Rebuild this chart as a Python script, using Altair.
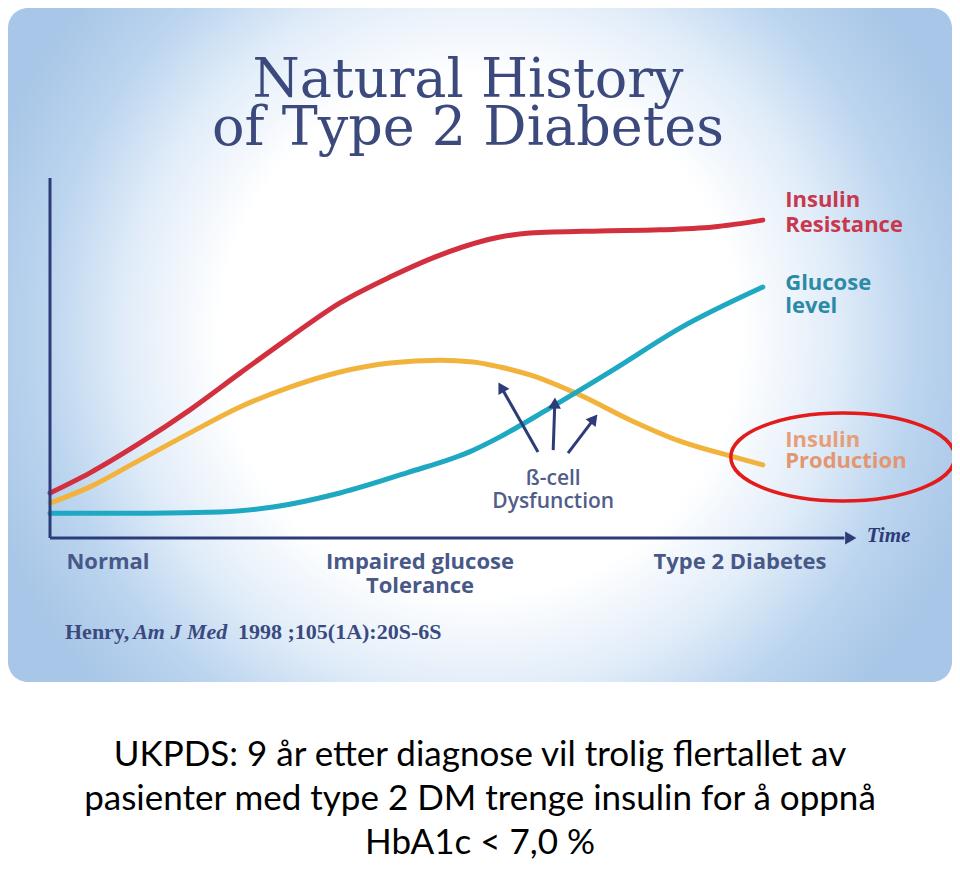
import altair as alt
import pandas as pd

# ---------------- data ----------------
# time axis: 0 = origin, 100 = arrow tip ; level axis: 0 = x-axis, 100 = top of y-axis
red_t = [0, 5, 11.25, 17.5, 23.75, 30, 36.25, 42.5, 48.75, 56.25, 60, 68.75, 76.25, 82.9, 89.1]
red_v = [12.5, 18.1, 26.4, 35.6, 45.8, 55.8, 65.3, 72.5, 78.6, 83.6, 84.7, 85.3, 85.6, 86.4, 88.3]

yel_t = [0, 5, 11.25, 17.5, 23.75, 30, 36.25, 42.5, 48.75, 52.9, 56.25, 60, 66.25, 72.5, 78.75, 85, 89.1]
yel_v = [9.7, 14.2, 21.7, 29.2, 36.4, 41.9, 46.1, 48.6, 49.4, 48.9, 47.5, 45.3, 39.7, 32.8, 26.9, 22.8, 20.3]

teal_t = [0, 12.5, 21.25, 27.9, 36.25, 44.6, 52.9, 56.25, 62.1, 70.4, 78.75, 89.1]
teal_v = [6.9, 6.9, 7.2, 8.6, 12.5, 18.1, 24.4, 28.1, 35.6, 46.7, 58.3, 69.7]

series_names = ["Insulin Resistance", "Insulin Production", "Glucose level"]
series_colors = ["#d2303f", "#f2b33d", "#1fa8c2"]

# curve labels
curve_lbl_text = ["Insulin", "Resistance", "Glucose", "level", "Insulin", "Production"]
curve_lbl_t = [91.9, 91.9, 91.9, 91.9, 91.9, 91.9]
curve_lbl_v = [91.9, 85.0, 68.9, 62.5, 25.3, 19.4]
curve_lbl_col = ["#c8374c", "#c8374c", "#2b8ba7", "#2b8ba7", "#e79e78", "#e39670"]

# stage labels under the time axis
stage_text = ["Normal", "Impaired glucose", "Tolerance", "Type 2 Diabetes"]
stage_t = [7.25, 46.25, 46.25, 86.25]
stage_v = [-8.6, -8.6, -15.3, -8.6]

# beta-cell annotation
beta_text = ["ß-cell", "Dysfunction"]
beta_t = [62.9, 62.9]
beta_v = [14.7, 8.3]

# beta-cell arrows (base -> head)
arr_t = [61.0, 62.9, 64.75]
arr_v = [23.9, 24.4, 23.6]
arr_t2 = [56.4, 63.1, 68.0]
arr_v2 = [41.9, 37.5, 33.1]
arr_angle = [330, 2, 38]

# title
title_text = ["Natural History", "of Type 2 Diabetes"]
title_t = [52.25, 52.25]
title_v = [122.5, 109.2]

# citation pieces
cite_text = ["Henry,", "Am J Med", "1998 ;105(1A):20S-6S"]
cite_t = [1.875, 10.4, 23.5]
cite_v = [-28.1, -28.1, -28.1]
cite_style = ["normal", "italic", "normal"]

# caption (Norwegian)
caption_text = [
    "UKPDS: 9 år etter diagnose vil trolig flertallet av",
    "pasienter med type 2 DM trenge insulin for å oppnå",
    "HbA1c < 7,0 %",
]
caption_t = [53.75, 53.75, 53.75]
caption_v = [-63.3, -75.6, -87.8]

# highlight ellipse around "Insulin Production"
ell_t = [99.1]
ell_v = [22.5]

NAVY = "#2d3c78"
LABEL = "#485888"

# ---------------- scales ----------------
W, H = 944, 674
xs = alt.Scale(domain=[-5.25, 112.75], nice=False, zero=False)
ys = alt.Scale(domain=[-40.0, 147.222], nice=False, zero=False)


def xe(f="t"):
    return alt.X(f"{f}:Q", scale=xs, axis=None)


def ye(f="v"):
    return alt.Y(f"{f}:Q", scale=ys, axis=None)


# ---------------- background panel ----------------
grad = alt.RadialGradient(
    gradient="radial",
    stops=[
        alt.GradientStop(offset=0, color="#ffffff"),
        alt.GradientStop(offset=0.5, color="#ffffff"),
        alt.GradientStop(offset=0.68, color="#e2edf9"),
        alt.GradientStop(offset=0.84, color="#bcd5ef"),
        alt.GradientStop(offset=1, color="#a8c6e7"),
    ],
    x1=0.5, y1=0.49, r1=0, x2=0.5, y2=0.49, r2=0.55,
)
panel = alt.Chart(pd.DataFrame({"p": [0]})).mark_rect(
    color=grad, cornerRadius=20
).encode(
    x=alt.value(0), x2=alt.value("width"), y=alt.value(0), y2=alt.value("height")
)

# ---------------- curves ----------------
rows = []
for name, ts, vs in [("Insulin Resistance", red_t, red_v),
                     ("Insulin Production", yel_t, yel_v),
                     ("Glucose level", teal_t, teal_v)]:
    for i, (t, v) in enumerate(zip(ts, vs)):
        rows.append({"series": name, "t": t, "v": v, "o": i})
curves_df = pd.DataFrame(rows)

curves = alt.Chart(curves_df).mark_line(
    strokeWidth=5, interpolate="monotone", strokeCap="round"
).encode(
    x=xe(), y=ye(),
    color=alt.Color("series:N", scale=alt.Scale(domain=series_names, range=series_colors), legend=None),
    detail="series:N",
    order="o:Q",
)

# ---------------- axes ----------------
axes_df = pd.DataFrame({"t": [0, 0], "v": [0, 0], "t2": [0, 99.3], "v2": [100, 0]})
axes = alt.Chart(axes_df).mark_rule(color=NAVY, strokeWidth=3).encode(
    x=xe(), y=ye(), x2="t2:Q", y2="v2:Q"
)
axis_head = alt.Chart(pd.DataFrame({"t": [100.1], "v": [0]})).mark_point(
    shape="triangle-right", filled=True, color=NAVY, size=170, opacity=1
).encode(x=xe(), y=ye())

time_lbl = alt.Chart(pd.DataFrame({"t": [102.1], "v": [-1.1], "txt": ["Time"]})).mark_text(
    font="Liberation Serif", fontSize=21, fontStyle="italic", fontWeight="bold",
    color=NAVY, align="left", baseline="alphabetic"
).encode(x=xe(), y=ye(), text="txt:N")

# ---------------- arrows ----------------
arr_df = pd.DataFrame({"t": arr_t, "v": arr_v, "t2": arr_t2, "v2": arr_v2, "ang": arr_angle})
arr_lines = alt.Chart(arr_df).mark_rule(color=NAVY, strokeWidth=3).encode(
    x=xe(), y=ye(), x2="t2:Q", y2="v2:Q"
)
arr_heads = alt.Chart(arr_df).mark_point(
    shape="triangle-up", filled=True, color=NAVY, size=160, opacity=1
).encode(x=xe("t2"), y=ye("v2"), angle=alt.Angle("ang:Q", scale=None))

# ---------------- texts ----------------
title = alt.Chart(pd.DataFrame({"t": title_t, "v": title_v, "txt": title_text})).mark_text(
    font="DejaVu Serif", fontSize=54, color="#3c497d", align="center", baseline="alphabetic"
).encode(x=xe(), y=ye(), text="txt:N")

curve_lbls = alt.Chart(pd.DataFrame({"t": curve_lbl_t, "v": curve_lbl_v, "txt": curve_lbl_text,
                                     "c": curve_lbl_col})).mark_text(
    font="Open Sans", fontSize=22, fontWeight="bold", align="left", baseline="alphabetic"
).encode(x=xe(), y=ye(), text="txt:N", color=alt.Color("c:N", scale=None))

stage_lbls = alt.Chart(pd.DataFrame({"t": stage_t, "v": stage_v, "txt": stage_text})).mark_text(
    font="Open Sans", fontSize=22, fontWeight="bold", color=LABEL, align="center", baseline="alphabetic"
).encode(x=xe(), y=ye(), text="txt:N")

beta_lbls = alt.Chart(pd.DataFrame({"t": beta_t, "v": beta_v, "txt": beta_text})).mark_text(
    font="Open Sans", fontSize=21, fontWeight=600, color="#525d88", align="center", baseline="alphabetic"
).encode(x=xe(), y=ye(), text="txt:N")

cite_df = pd.DataFrame({"t": cite_t, "v": cite_v, "txt": cite_text, "st": cite_style})
cite_norm = alt.Chart(cite_df[cite_df.st == "normal"]).mark_text(
    font="Liberation Serif", fontSize=22, fontWeight="bold", color="#3b4a7e", align="left", baseline="alphabetic"
).encode(x=xe(), y=ye(), text="txt:N")
cite_ital = alt.Chart(cite_df[cite_df.st == "italic"]).mark_text(
    font="Liberation Serif", fontSize=22, fontWeight="bold", fontStyle="italic", color="#3b4a7e",
    align="left", baseline="alphabetic"
).encode(x=xe(), y=ye(), text="txt:N")

caption = alt.Chart(pd.DataFrame({"t": caption_t, "v": caption_v, "txt": caption_text})).mark_text(
    font="Lato", fontSize=35, color="#000000", align="center", baseline="alphabetic"
).encode(x=xe(), y=ye(), text="txt:N")

# ---------------- highlight ellipse ----------------
ELLIPSE = ("M -1 0 C -1 -0.217 -0.5523 -0.393 0 -0.393 C 0.5523 -0.393 1 -0.217 1 0 "
           "C 1 0.217 0.5523 0.393 0 0.393 C -0.5523 0.393 -1 0.217 -1 0 Z")
ellipse = alt.Chart(pd.DataFrame({"t": ell_t, "v": ell_v})).mark_point(
    shape=ELLIPSE, size=50176, filled=False, stroke="#e31b1b", strokeWidth=3.5, opacity=1
).encode(x=xe(), y=ye())

chart = alt.layer(
    panel, curves, axes, axis_head, time_lbl, arr_lines, arr_heads,
    title, curve_lbls, stage_lbls, beta_lbls, cite_norm, cite_ital, caption, ellipse
).properties(
    width=W, height=H,
    autosize=alt.AutoSizeParams(type="none"),
    padding={"left": 0, "top": 0, "right": 0, "bottom": 181},
    background="#ffffff",
).configure_view(
    strokeWidth=0
)

chart.save("out.html", embed_options={"renderer": "svg", "actions": False})
